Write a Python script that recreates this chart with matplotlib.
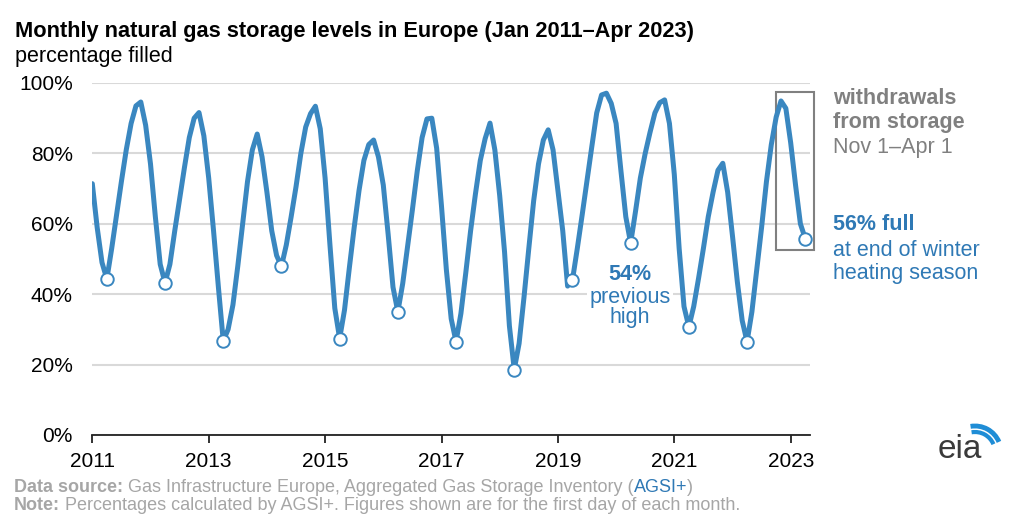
import matplotlib.pyplot as plt
import numpy as np
from matplotlib.patches import Rectangle, Arc

plt.rcParams['font.family'] = ['Liberation Sans', 'DejaVu Sans']

# percentage filled on the 1st of each month, Jan 2011 - Apr 2023
y2011 = [71.4, 59, 49, 44.3, 53, 62.5, 72, 81, 88.5, 93.5, 94.6, 88]
y2012 = [77, 62, 48.5, 43.2, 48.5, 58, 67, 76, 84.5, 90, 91.6, 85]
y2013 = [73, 58, 42, 26.7, 30, 37, 48, 60, 72, 81, 85.5, 79]
y2014 = [69, 58, 51, 47.9, 54, 62, 70.5, 80, 87.5, 91.3, 93.4, 87]
y2015 = [73, 54, 36, 27.4, 35.5, 47.5, 59, 69.5, 78, 82.5, 83.8, 79]
y2016 = [71, 57, 42, 35, 43, 53.4, 64, 75, 84.5, 89.8, 90, 81.5]
y2017 = [65, 47, 33, 26.5, 34.5, 46, 58, 68.5, 78, 84.2, 88.6, 81]
y2018 = [68, 52, 31, 18.6, 26, 39, 53, 66.5, 77, 83.8, 86.7, 81]
y2019 = [69.5, 58, 42.3, 44, 53, 62.5, 72.3, 82, 91.5, 96.6, 97.1, 94.2]
y2020 = [88.5, 75, 62, 54.5, 63.5, 73, 80, 86, 91.5, 94.4, 95.2, 88.5]
y2021 = [74, 53, 36.5, 30.7, 36.5, 44.5, 53, 62, 69, 75.2, 77.2, 69]
y2022 = [56.5, 43.5, 32.5, 26.5, 35, 47, 59, 72, 82.5, 90.3, 94.9, 92.8]
y2023 = [83, 71, 60, 55.8]

years = [2011, 2013, 2015, 2017, 2019, 2021, 2023]
yticks = [0, 20, 40, 60, 80, 100]

vals = np.array(y2011 + y2012 + y2013 + y2014 + y2015 + y2016 + y2017 + y2018
                + y2019 + y2020 + y2021 + y2022 + y2023)
x = 2011 + np.arange(len(vals)) / 12
april = np.arange(3, len(vals), 12)

blue = '#3a87c0'
tblue = '#2f79b5'
grey = '#808080'
lgrey = '#a6a6a6'

W, H = 1024, 515
fig = plt.figure(figsize=(W / 100, H / 100), dpi=100)
ax = fig.add_axes([92.3 / W, (H - 435) / H, (810 - 92.3) / W, (435 - 83) / H])

ax.plot(x, vals, color=blue, lw=3.6, solid_joinstyle='round', solid_capstyle='round', zorder=3)
ax.plot(x[april], vals[april], 'o', ms=9, mfc='white', mec=blue, mew=1.4, zorder=4, clip_on=False)

ax.set_xlim(2011, 2011 + (810 - 92.3) / 58.2)
ax.set_ylim(0, 100)
ax.set_yticks(yticks)
ax.set_yticklabels([f'{v}%' for v in yticks])
ax.set_xticks(years)
ax.set_xticklabels([str(y) for y in years])
ax.yaxis.grid(True, color='#d9d9d9', lw=1.5)
ax.set_axisbelow(True)
for s in ['top', 'right', 'left']:
    ax.spines[s].set_visible(False)
ax.spines['bottom'].set_color('#222222')
ax.spines['bottom'].set_linewidth(1.3)
ax.tick_params(axis='y', length=0, pad=14, labelsize=15)
ax.tick_params(axis='x', length=6, width=1.3, color='#222222', pad=6, labelsize=15)

# withdrawal box
ax.add_patch(Rectangle((2022.75, 52.5), 0.645, 44.9, fill=False, ec=grey, lw=1.5,
                       clip_on=False, zorder=2.5))

# titles
fig.text(15 / W, 1 - 31.7 / H, 'Monthly natural gas storage levels in Europe (Jan 2011\u2013Apr 2023)',
         fontsize=15.7, weight='bold', va='center')
fig.text(15 / W, 1 - 56.7 / H, 'percentage filled', fontsize=15.5, va='center')

# annotations
fig.text(833 / W, 1 - 98 / H, 'withdrawals', fontsize=15.5, weight='bold', color=grey, va='center')
fig.text(833 / W, 1 - 123 / H, 'from storage', fontsize=15.5, weight='bold', color=grey, va='center')
fig.text(833 / W, 1 - 148 / H, 'Nov 1\u2013Apr 1', fontsize=15.5, color=grey, va='center')
fig.text(833 / W, 1 - 225 / H, '56% full', fontsize=15.5, weight='bold', color=tblue, va='center')
fig.text(833 / W, 1 - 250 / H, 'at end of winter', fontsize=15.5, color=tblue, va='center')
fig.text(833 / W, 1 - 274 / H, 'heating season', fontsize=15.5, color=tblue, va='center')

fig.text(630 / W, 1 - 275 / H, '54%', fontsize=15.5, weight='bold', color=tblue, va='center', ha='center')
fig.text(630 / W, 1 - 297 / H, 'previous', fontsize=15.5, color=tblue, va='center', ha='center',
         bbox=dict(fc='white', ec='none', pad=2), zorder=1)
fig.text(630 / W, 1 - 318 / H, 'high', fontsize=15.5, color=tblue, va='center', ha='center')

# footer
t1 = fig.text(14 / W, 1 - 487 / H, 'Data source:', fontsize=13, weight='bold', color=lgrey, va='center')
t2 = fig.text(0, 0, ' Gas Infrastructure Europe, Aggregated Gas Storage Inventory (', fontsize=13, color=lgrey)
t3 = fig.text(0, 0, 'AGSI+', fontsize=13, color=tblue)
t4 = fig.text(0, 0, ')', fontsize=13, color=lgrey)
fig.canvas.draw()
r = fig.canvas.get_renderer()
prev = t1
for t in [t2, t3, t4]:
    bb = prev.get_window_extent(r)
    t.set_position((bb.x1 / W, (bb.y0 + bb.y1) / 2 / H))
    t.set_va('center')
    prev = t
n1 = fig.text(14 / W, 1 - 506 / H, 'Note:', fontsize=13, weight='bold', color=lgrey, va='center')
fig.canvas.draw()
bb = n1.get_window_extent(r)
fig.text(bb.x1 / W, 1 - 506 / H,
         ' Percentages calculated by AGSI+. Figures shown are for the first day of each month.',
         fontsize=13, color=lgrey, va='center')

# eia logo
fig.text(960 / W, 1 - 449 / H, 'eia', fontsize=24, color='#3a3a3a', ha='center', va='center')
for rr, lw in [(26, 3.5), (20, 3)]:
    fig.add_artist(Arc((975 / W, 1 - 452 / H), 2 * rr / W, 2 * rr / H, theta1=40, theta2=95,
                       color='#1f8dd6', lw=lw, transform=fig.transFigure))

fig.savefig('out.png', dpi=100)
